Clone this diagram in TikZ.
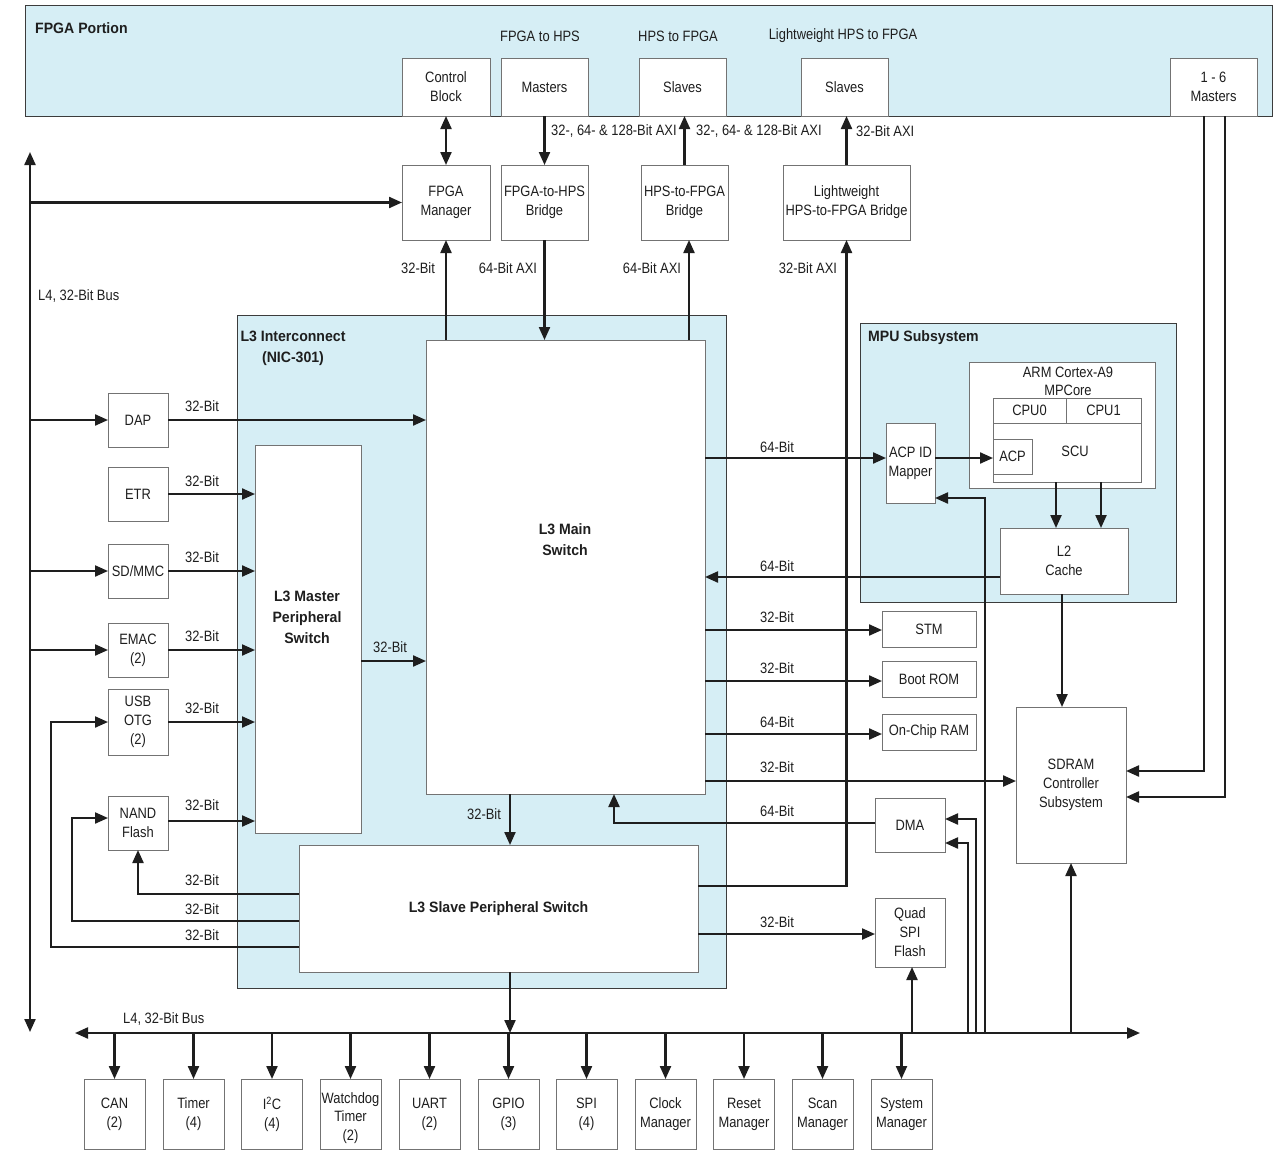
\documentclass[tikz,border=0pt]{standalone}
\usepackage{fontspec}
\setmainfont{Liberation Sans}[FakeStretch=0.86]
\newfontfamily\bfam{Liberation Sans}[FakeStretch=0.94]
\usetikzlibrary{arrows.meta,calc}
\definecolor{lblue}{RGB}{214,238,245}
\definecolor{bgray}{RGB}{115,115,115}
\definecolor{dgray}{RGB}{60,60,60}
\definecolor{ink}{RGB}{30,30,30}
\begin{document}
\begin{tikzpicture}[x=1pt,y=-1pt,
  every node/.style={font=\fontsize{15}{19}\selectfont, text=ink},
  box/.style={draw=bgray, line width=0.9pt, fill=white, align=center, inner sep=0pt, outer sep=0pt},
  cont/.style={draw=dgray, line width=0.9pt, fill=lblue, inner sep=0pt, outer sep=0pt},
  arr/.style={draw=ink, line width=2.2pt, -{Triangle[length=13pt,width=11pt]}},
  darr/.style={draw=ink, line width=2.2pt, {Triangle[length=13pt,width=11pt]}-{Triangle[length=13pt,width=11pt]}},
  lbl/.style={inner sep=0pt},
  ttl/.style={inner sep=0pt, font=\bfam\bfseries\fontsize{15}{21}\selectfont, align=center},
]
\useasboundingbox (0,0) rectangle (1276,1164);
\fill[white] (0,0) rectangle (1276,1164);

% ---------- containers ----------
\node[cont, minimum width=1247pt, minimum height=111pt] (fpga) at (648.5,60.5) {};
\node[ttl, anchor=west] (fpgat) at (35,28) {FPGA Portion};
\node[lbl] (t1) at (540,36) {FPGA to HPS};
\node[lbl] (t2) at (678,36) {HPS to FPGA};
\node[lbl] (t3) at (843,36) {Lightweight HPS to FPGA};

\node[cont, minimum width=489pt, minimum height=673pt] (l3) at (481.5,651.5) {};
\node[ttl] (l3t) at (293,348) {L3 Interconnect\\(NIC-301)};

\node[cont, minimum width=316pt, minimum height=279pt] (mpu) at (1018,462.5) {};
\node[ttl, anchor=west] (mput) at (868,338) {MPU Subsystem};

% ---------- FPGA boxes ----------
\node[box, minimum width=88pt, minimum height=58pt] (ctrl) at (446,87) {Control\\Block};
\node[box, minimum width=87pt, minimum height=58pt] (mast) at (544.5,87) {Masters};
\node[box, minimum width=87pt, minimum height=58pt] (slv1) at (682.5,87) {Slaves};
\node[box, minimum width=87pt, minimum height=58pt] (slv2) at (844.5,87) {Slaves};
\node[box, minimum width=87pt, minimum height=58pt] (m16) at (1213.5,87) {1 - 6\\Masters};

\node[box, minimum width=88pt, minimum height=75pt] (fmgr) at (446,202.5) {FPGA\\Manager};
\node[box, minimum width=87pt, minimum height=75pt] (f2h) at (544.5,202.5) {FPGA-to-HPS\\Bridge};
\node[box, minimum width=87pt, minimum height=75pt] (h2f) at (684.5,202.5) {HPS-to-FPGA\\Bridge};
\node[box, minimum width=127pt, minimum height=75pt] (lw) at (846.5,202.5) {Lightweight\\HPS-to-FPGA Bridge};

% ---------- L3 switches ----------
\node[box, minimum width=279pt, minimum height=454pt] (main) at (565.5,567) {};
\node[ttl] (mainl) at (565,540) {L3 Main\\Switch};
\node[box, minimum width=106pt, minimum height=388pt] (mps) at (308,639) {};
\node[ttl] (mpsl) at (307,617) {L3 Master\\Peripheral\\Switch};
\node[box, minimum width=399pt, minimum height=127pt, font=\bfam\bfseries\fontsize{15}{21}\selectfont] (sps) at (498.5,908.5) {L3 Slave Peripheral Switch};

% ---------- left peripherals ----------
\node[box, minimum width=60pt, minimum height=54pt] (dap) at (138,420) {DAP};
\node[box, minimum width=60pt, minimum height=54pt] (etr) at (138,494) {ETR};
\node[box, minimum width=60pt, minimum height=54pt] (sdmmc) at (138,571) {SD/MMC};
\node[box, minimum width=60pt, minimum height=54pt] (emac) at (138,650) {EMAC\\(2)};
\node[box, minimum width=60pt, minimum height=66pt] (usb) at (138,722) {USB\\OTG\\(2)};
\node[box, minimum width=60pt, minimum height=54pt] (nand) at (138,823) {NAND\\Flash};

% ---------- right peripherals ----------
\node[box, minimum width=94pt, minimum height=36pt] (stm) at (929,629) {STM};
\node[box, minimum width=94pt, minimum height=36pt] (brom) at (929,679) {Boot ROM};
\node[box, minimum width=94pt, minimum height=36pt] (ocram) at (929,732) {On-Chip RAM};
\node[box, minimum width=110pt, minimum height=156pt] (sdram) at (1071,785) {SDRAM\\Controller\\Subsystem};
\node[box, minimum width=70pt, minimum height=54pt] (dma) at (910,825) {DMA};
\node[box, minimum width=70pt, minimum height=69pt] (quad) at (910,932.5) {Quad\\SPI\\Flash};

% ---------- MPU ----------
\node[box, minimum width=186pt, minimum height=126pt] (arm) at (1062,425) {};
\node[lbl, align=center, font=\fontsize{15}{18}\selectfont] (arml) at (1068,381) {ARM Cortex-A9\\MPCore};
\node[box, minimum width=148pt, minimum height=84pt] (scu) at (1067,440) {};
\node[box, minimum width=73pt, minimum height=25pt] (cpu0) at (1029.5,410.5) {CPU0};
\node[box, minimum width=75pt, minimum height=25pt] (cpu1) at (1103.5,410.5) {CPU1};
\node[lbl] (scul) at (1075,451) {SCU};
\node[box, minimum width=39pt, minimum height=35pt] (acp) at (1012.5,456.5) {ACP};
\node[box, minimum width=49pt, minimum height=80pt] (mapper) at (910.5,463) {ACP ID\\Mapper};
\node[box, minimum width=128pt, minimum height=66pt] (l2) at (1064,561) {L2\\Cache};

% ---------- bottom row ----------
\foreach \n/\x/\t in {can/114.5/{CAN\\(2)}, tim/193.5/{Timer\\(4)}, iic/272/{I\textsuperscript{2}C\\(4)},
  wdt/350.5/{}, uart/429.5/{UART\\(2)}, gpio/508.5/{GPIO\\(3)}, spi/586.5/{SPI\\(4)},
  clk/665.5/{Clock\\Manager}, rst/744/{Reset\\Manager}, scan/822.5/{Scan\\Manager}, sys/901.5/{System\\Manager}}
  \node[box, minimum width=61pt, minimum height=70pt] (\n) at (\x,1114) {\t};
\node[lbl, align=center, font=\fontsize{15}{18.5}\selectfont] (wdtl) at (350.5,1118) {Watchdog\\Timer\\(2)};

% ---------- top connections ----------
\draw[darr] (ctrl.south) -- (fmgr.north);
\draw[arr] (mast.south) -- (mast.south |- f2h.north);
\node[lbl, anchor=west] (a1) at (551,131) {32-, 64- \& 128-Bit AXI};
\draw[arr] (h2f.north) -- (h2f.north |- slv1.south);
\node[lbl, anchor=west] (a2) at (696,131) {32-, 64- \& 128-Bit AXI};
\draw[arr] (lw.north) -- (lw.north |- slv2.south);
\node[lbl, anchor=west] (a3) at (856,131) {32-Bit AXI};

% left L4 bus
\coordinate (lbT) at (30,152);
\coordinate (lbB) at (30,1032);
\draw[darr] (lbB) -- (lbT);
\node[lbl, anchor=west] (lbl1) at (38,296) {L4, 32-Bit Bus};
\draw[arr] (lbT |- fmgr.west) -- (fmgr.west);

% bridges to main switch
\draw[arr] (fmgr.south |- main.north) -- (fmgr.south);
\node[lbl] at (418,268) {32-Bit};
\draw[arr] (f2h.south) -- (f2h.south |- main.north);
\node[lbl] at (508,268) {64-Bit AXI};
\coordinate (m689) at (689,340);
\draw[arr] (m689) -- (m689 |- h2f.south);
\node[lbl] at (652,268) {64-Bit AXI};
\coordinate (s886) at (698,886);
\draw[arr] (s886) -| (lw.south);
\node[lbl] at (808,268) {32-Bit AXI};

% left peripherals
\draw[arr] (lbT |- dap.west) -- (dap.west);
\draw[arr] (lbT |- sdmmc.west) -- (sdmmc.west);
\draw[arr] (lbT |- emac.west) -- (emac.west);
\draw[arr] (dap.east) -- (dap.east -| main.west);
\node[lbl] at (202,406) {32-Bit};
\draw[arr] (etr.east) -- (etr.east -| mps.west);
\node[lbl] at (202,481) {32-Bit};
\draw[arr] (sdmmc.east) -- (sdmmc.east -| mps.west);
\node[lbl] at (202,557) {32-Bit};
\draw[arr] (emac.east) -- (emac.east -| mps.west);
\node[lbl] at (202,636) {32-Bit};
\draw[arr] (usb.east) -- (usb.east -| mps.west);
\node[lbl] at (202,708) {32-Bit};
\draw[arr] ([yshift=2pt]nand.east) -- ([yshift=2pt]nand.east -| mps.west);
\node[lbl] at (202,805) {32-Bit};

% slave switch back to left peripherals
\coordinate (s894) at (299,894);
\draw[arr] (s894) -| (nand.south);
\node[lbl] at (202,880) {32-Bit};
\coordinate (s921) at (299,921);
\coordinate (k72) at (72,921);
\draw[arr] (s921) -- (k72) |- ([yshift=5pt]nand.west);
\node[lbl] at (202,909) {32-Bit};
\coordinate (s947) at (299,947);
\coordinate (k51) at (51,947);
\draw[arr] (s947) -- (k51) |- (usb.west);
\node[lbl] at (202,935) {32-Bit};

% master -> main, main -> slave
\coordinate (p661) at (361,661);
\draw[arr] (p661) -- (p661 -| main.west);
\node[lbl] at (390,647) {32-Bit};
\coordinate (p510) at (510,794);
\draw[arr] (p510) -- (p510 |- sps.north);
\node[lbl] at (484,814) {32-Bit};

% right side of main
\coordinate (r458) at (705,458);
\draw[arr] (r458) -- (r458 -| mapper.west);
\node[lbl] at (777,447) {64-Bit};
\coordinate (c577) at (1000,577);
\draw[arr] (c577) -- (c577 -| main.east);
\node[lbl] at (777,566) {64-Bit};
\coordinate (r630) at (705,630);
\draw[arr] (r630) -- (r630 -| stm.west);
\node[lbl] at (777,617) {32-Bit};
\coordinate (r681) at (705,681);
\draw[arr] (r681) -- (r681 -| brom.west);
\node[lbl] at (777,668) {32-Bit};
\coordinate (r734) at (705,734);
\draw[arr] (r734) -- (r734 -| ocram.west);
\node[lbl] at (777,722) {64-Bit};
\coordinate (r781) at (705,781);
\draw[arr] (r781) -- (r781 -| sdram.west);
\node[lbl] at (777,767) {32-Bit};
\coordinate (d614) at (614,794);
\draw[arr] ([yshift=2pt]dma.west) -| (d614);
\node[lbl] at (777,811) {64-Bit};
\coordinate (r934) at (698,934);
\draw[arr] (r934) -- (r934 -| quad.west);
\node[lbl] at (777,922) {32-Bit};

% MPU internal
\coordinate (a458) at (935,458);
\draw[arr] (a458) -- (a458 -| acp.west);
\coordinate (s1056) at (1056,482);
\draw[arr] (s1056) -- (s1056 |- l2.north);
\coordinate (s1101) at (1101,482);
\draw[arr] (s1101) -- (s1101 |- l2.north);
\coordinate (c1062) at (1062,594);
\draw[arr] (c1062) -- (c1062 |- sdram.north);

% 1-6 masters to SDRAM
\coordinate (q1204) at (1204,116);
\draw[arr] (q1204) |- ([yshift=14pt]sdram.east);
\coordinate (q1225) at (1225,116);
\draw[arr] (q1225) |- ([yshift=-12pt]sdram.east);

% bottom L4 bus
\coordinate (L4L) at (75,1033);
\coordinate (L4R) at (1140,1033);
\draw[darr] (L4L) -- (L4R);
\node[lbl, anchor=west] (lbl2) at (123,1019) {L4, 32-Bit Bus};
\coordinate (p510b) at (510,972);
\draw[arr] (p510b) -- (p510b |- L4L);
\foreach \n in {can,tim,iic,wdt,uart,gpio,spi,clk,rst,scan,sys}
  \draw[arr] (\n.north |- L4L) -- (\n.north);
\coordinate (v912) at (912,1033);
\draw[arr] (v912) -- (v912 |- quad.south);
\coordinate (v968) at (968,1033);
\draw[arr] (v968) |- ([yshift=-18pt]dma.east);
\coordinate (v976) at (976,1033);
\draw[arr] (v976) |- ([yshift=6pt]dma.east);
\coordinate (v985) at (985,1033);
\draw[arr] (v985) |- ([yshift=-35pt]mapper.east);
\draw[arr] (sdram.south |- L4L) -- (sdram.south);
\end{tikzpicture}
\end{document}
